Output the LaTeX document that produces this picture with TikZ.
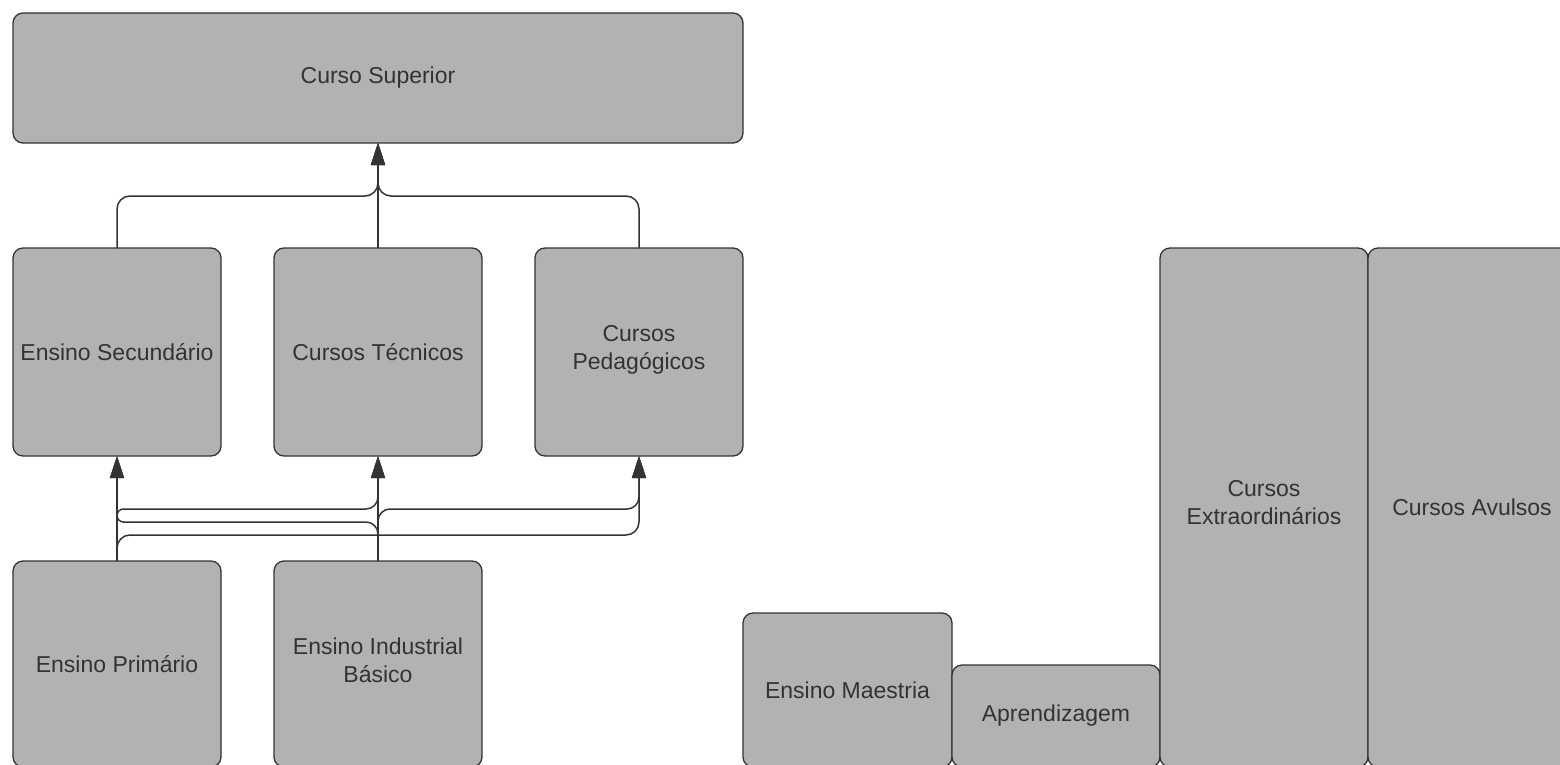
\documentclass[tikz,border=0pt]{standalone}
\usepackage{fontspec}
\setmainfont{Liberation Sans}
\usetikzlibrary{arrows.meta}
\definecolor{boxfill}{HTML}{B2B2B2}
\definecolor{ink}{HTML}{333333}
\begin{document}
\begin{tikzpicture}[x=1pt,y=-1pt,
  block/.style={draw=ink, line width=1.3pt, fill=boxfill, rounded corners=10pt,
    text=ink, font=\fontsize{23}{28}\selectfont, align=center,
    inner sep=0pt, outer sep=0pt},
  link/.style={draw=ink, line width=1.5pt},
  tip/.style={-{Triangle[length=22pt,width=14pt]}}]
\useasboundingbox (0,0) rectangle (1560,765);

% upper level
\node[block, minimum width=730pt, minimum height=130pt] (sup) at (378,78) {Curso Superior};

% middle level
\node[block, minimum width=208pt, minimum height=208pt] (sec) at (117,352) {Ensino Secundário};
\node[block, minimum width=208pt, minimum height=208pt] (tec) at (378,352) {Cursos Técnicos};
\node[block, minimum width=208pt, minimum height=208pt, text depth=9pt] (ped) at (639,352) {Cursos\\Pedagógicos};

% lower level
\node[block, minimum width=208pt, minimum height=206pt] (pri) at (117,664) {Ensino Primário};
\node[block, minimum width=208pt, minimum height=206pt, text depth=8pt] (ind) at (378,664) {Ensino Industrial\\Básico};

% right-hand group
\node[block, minimum width=209pt, minimum height=154pt] (mae) at (847.5,690) {Ensino Maestria};
\node[block, minimum width=208pt, minimum height=102pt] (apr) at (1056,716) {Aprendizagem};
\node[block, minimum width=208pt, minimum height=519pt, text depth=10pt] (ext) at (1264,507.5) {Cursos\\Extraordinários};
\node[block, minimum width=208pt, minimum height=519pt] (avu) at (1472,507.5) {Cursos Avulsos};

% routing levels for the connectors
\coordinate (top) at (0,196);
\coordinate (r1) at (0,509);
\coordinate (r2) at (0,522);
\coordinate (r3) at (0,535);

% into the Curso Superior
\draw[link,tip,rounded corners=13pt] (sec.north) -- (sec.north |- top) -- (sup.south |- top) -- (sup.south);
\draw[link,tip] (tec.north) -- (sup.south);
\draw[link,tip,rounded corners=13pt] (ped.north) -- (ped.north |- top) -- (sup.south |- top) -- (sup.south);

% from the Ensino Primário
\draw[link,tip] (pri.north) -- (sec.south);
\draw[link,tip] (pri.north) [rounded corners=6.5pt] -- (pri.north |- r1) [rounded corners=12pt] -- (tec.south |- r1) -- (tec.south);
\draw[link,tip,rounded corners=13pt] (pri.north) -- (pri.north |- r3) -- (ped.south |- r3) -- (ped.south);

% from the Ensino Industrial Básico
\draw[link,tip] (ind.north) -- (tec.south);
\draw[link,tip] (ind.north) [rounded corners=12pt] -- (ind.north |- r2) [rounded corners=6.5pt] -- (sec.south |- r2) -- (sec.south);
\draw[link,tip,rounded corners=12pt] (ind.north) -- (ind.north |- r1) -- (ped.south |- r1) -- (ped.south);
\end{tikzpicture}
\end{document}
